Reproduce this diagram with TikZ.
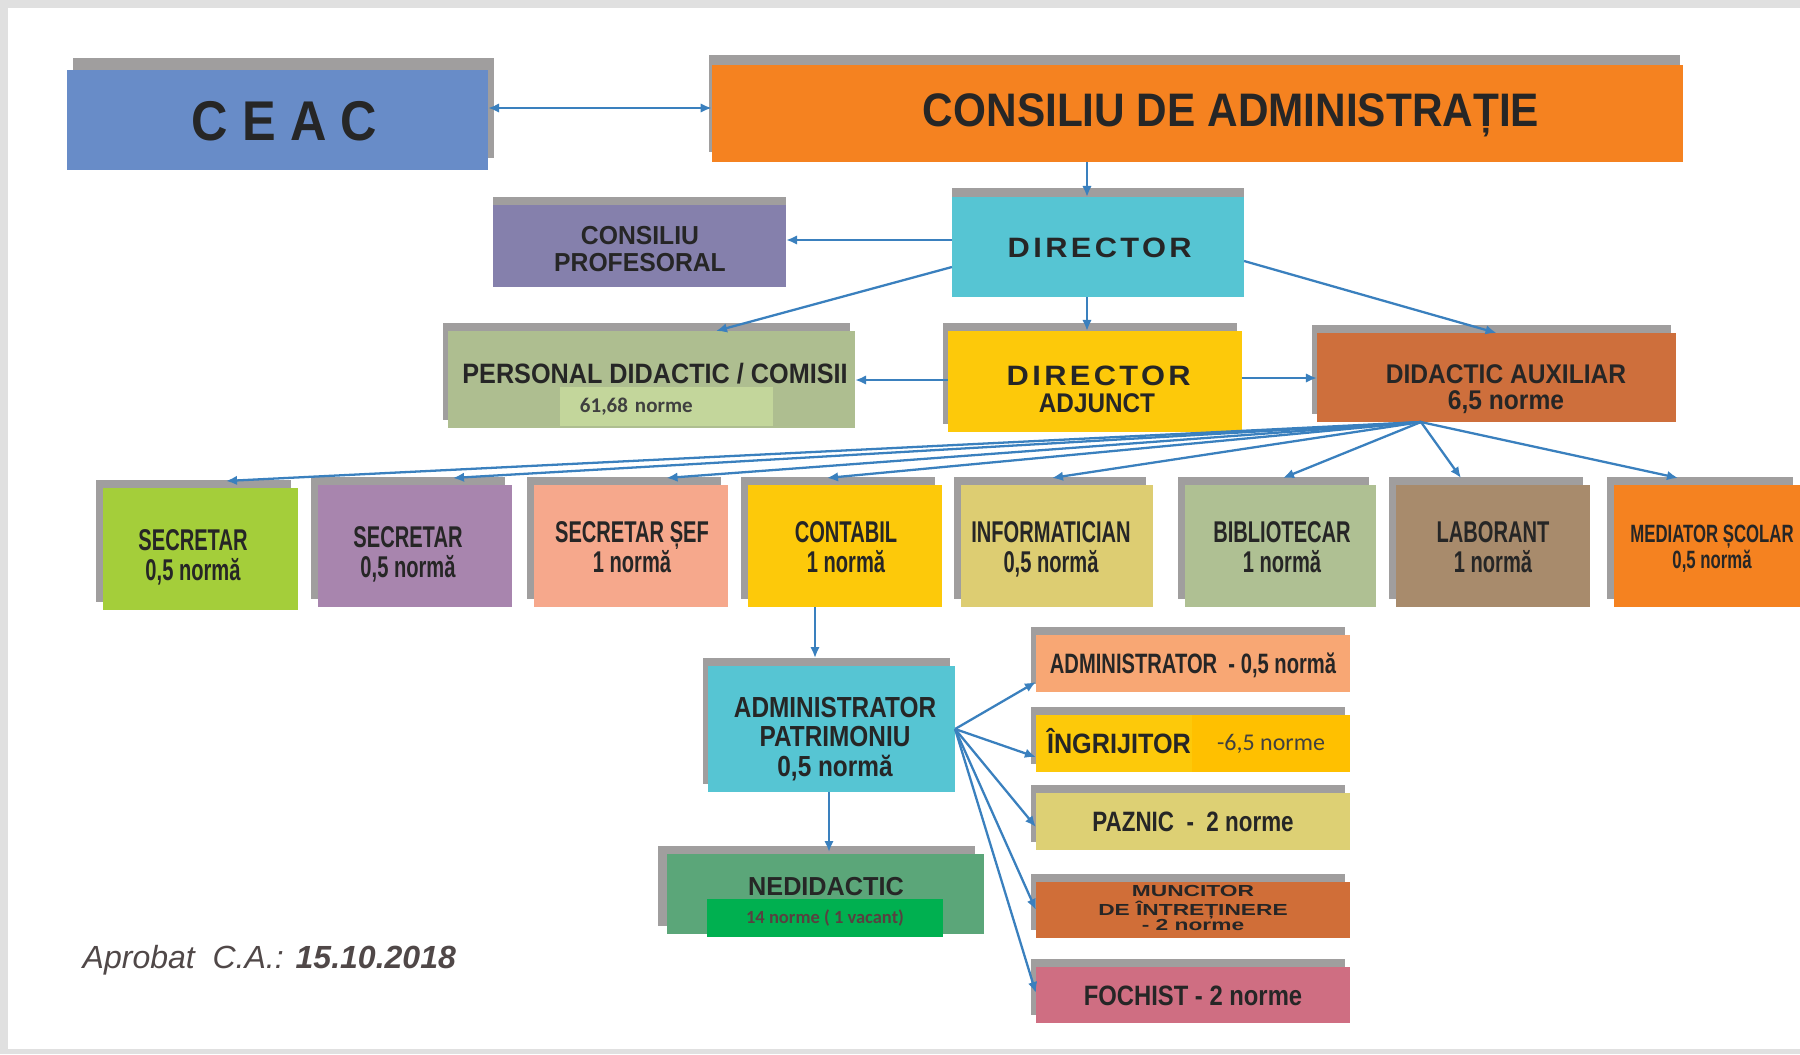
\documentclass[tikz,border=0pt]{standalone}
\usepackage{fontspec}
\setmainfont{Liberation Sans}
\newfontfamily\spfont[LetterSpace=11]{Liberation Sans}
\newfontfamily\spfontb[LetterSpace=28]{Liberation Sans}
\newfontfamily\carl{Carlito}
\usepackage{graphicx}
\usetikzlibrary{arrows.meta,shadows}
\newdimen\pxu \pxu=0.28453pt
\newcommand\fsz[2]{\fontsize{\the\dimexpr#1\pxu\relax}{\the\dimexpr#2\pxu\relax}\selectfont}
\newcommand\lab[4]{\scalebox{#1}[1]{\fsz{#2}{#3}\begin{tabular}{@{}c@{}}#4\end{tabular}}}
\definecolor{cCeac}{RGB}{104,140,200}
\definecolor{cCa}{RGB}{245,130,32}
\definecolor{cDir}{RGB}{86,197,211}
\definecolor{cCp}{RGB}{133,128,172}
\definecolor{cPd}{RGB}{174,190,144}
\definecolor{cPdIn}{RGB}{195,214,155}
\definecolor{cYel}{RGB}{253,201,10}
\definecolor{cAux}{RGB}{206,111,60}
\definecolor{cBa}{RGB}{164,206,58}
\definecolor{cBb}{RGB}{168,133,174}
\definecolor{cBc}{RGB}{246,168,140}
\definecolor{cBe}{RGB}{221,205,114}
\definecolor{cBf}{RGB}{175,192,147}
\definecolor{cBg}{RGB}{168,139,108}
\definecolor{cAdm}{RGB}{248,167,116}
\definecolor{cAmber}{RGB}{255,192,0}
\definecolor{cPaz}{RGB}{221,208,116}
\definecolor{cMun}{RGB}{208,110,56}
\definecolor{cFoc}{RGB}{207,110,130}
\definecolor{cNed}{RGB}{91,166,121}
\definecolor{cNedIn}{RGB}{0,176,80}
\definecolor{cLine}{RGB}{58,128,190}
\definecolor{cTxt}{RGB}{38,38,38}
\definecolor{cNote}{RGB}{80,72,72}
\definecolor{cCal}{RGB}{64,64,64}
\definecolor{cVac}{RGB}{89,64,64}
\definecolor{cShd}{RGB}{160,158,158}
\begin{document}
\begin{tikzpicture}[x=0.01cm, y=-0.01cm,
  bx/.style={rectangle, inner sep=0pt, outer sep=0pt, draw=none, font=\bfseries, text=cTxt},
  sh/.style 2 args={drop shadow={shadow xshift=#1, shadow yshift=#2, fill=cShd, opacity=1}},
  shd/.style={sh={-0.05cm}{0.08cm}},
  txt/.style={inner sep=0pt, outer sep=0pt, font=\bfseries, text=cTxt},
  bot/.style={bx, sh={-0.07cm}{0.08cm}, minimum width=1.94cm, minimum height=1.22cm},
  rbox/.style={bx, shd, minimum width=3.14cm, minimum height=0.57cm},
  conn/.style={draw=cLine, line width=0.65pt, -{Latex[length=1.1mm,width=0.95mm]}},
  conn2/.style={draw=cLine, line width=0.65pt, {Latex[length=1.1mm,width=0.95mm]}-{Latex[length=1.1mm,width=0.95mm]}},
]
\useasboundingbox (0,0) rectangle (1800,1054);
\fill[black!12] (0,0) rectangle (1800,1054);
\fill[white] (8,8) rectangle (1800,1049);

% top level
\node[bx, sh={0.06cm}{0.12cm}, fill=cCeac, minimum width=4.21cm, minimum height=0.86cm] (ceac) at (277.5,120)
  {\lab{0.9}{56}{100}{\spfontb\kern15.7\pxu CEAC}};
\node[bx, sh={-0.03cm}{0.10cm}, fill=cCa, minimum width=9.71cm, minimum height=0.97cm] (ca) at (1197.5,113.5) {};
\node[txt] (cat) at (1231,109.5) {\lab{0.9}{47}{84}{CONSILIU DE ADMINISTRAȚIE}};

\node[bx, sh={0cm}{0.09cm}, fill=cDir, minimum width=2.92cm, minimum height=1.00cm] (dir) at (1098,247)
  {\lab{1.1}{28}{50}{\spfont\kern3.08\pxu DIRECTOR}};
\node[bx, sh={0cm}{0.08cm}, fill=cCp, minimum width=2.93cm, minimum height=0.82cm] (cp) at (639.5,246) {};
\node[txt] (cpt) at (640,252.5) {\lab{0.95}{26}{27}{CONSILIU\\PROFESORAL}};

% second level
\node[bx, shd, fill=cPd, minimum width=4.07cm, minimum height=0.97cm] (pd) at (651.5,379.5) {};
\node[txt] (pdt) at (655,373) {\lab{0.9}{28}{50}{PERSONAL DIDACTIC / COMISII}};
\node[rectangle, fill=cPdIn, inner xsep=0.2cm, inner ysep=0pt, text width=1.73cm, align=left,
  minimum height=0.39cm, font={\carl\bfseries\fsz{21}{25}}, text=cCal] (pdn) at (666.5,406.5) {61,68 norme};

\node[bx, shd, fill=cYel, minimum width=2.94cm, minimum height=1.01cm] (da) at (1095,381.5) {};
\node[txt] (dat) at (1097,393) {\fsz{28}{29}\begin{tabular}{@{}c@{}}\scalebox{1.1}[1]{\spfont\kern3.08\pxu DIRECTOR}\\[-0.5pt]\scalebox{0.9}[1]{\fsz{27}{29}ADJUNCT}\end{tabular}};

\node[bx, shd, fill=cAux, minimum width=3.59cm, minimum height=0.89cm] (aux) at (1496.5,377.5) {};
\node[txt] (auxt) at (1506,391) {\lab{0.91}{27}{26}{DIDACTIC AUXILIAR\\6,5 norme}};

% bottom row
\node[bot, fill=cBa] (b1) at (200.5,549) {};
\node[bot, fill=cBb] (b2) at (415,546) {};
\node[bot, fill=cBc] (b3) at (631,546) {};
\node[bot, fill=cYel] (b4) at (845,546) {};
\node[bot, fill=cBe, minimum width=1.92cm] (b5) at (1057,546) {};
\node[bot, fill=cBf, minimum width=1.91cm] (b6) at (1280.5,546) {};
\node[bot, fill=cBg] (b7) at (1493,546) {};
\node[bot, fill=cCa, minimum width=1.86cm] (b8) at (1707,546) {};
\node[txt] (b1t) at (193,559) {\lab{0.67}{30}{28}{SECRETAR\\0,5 normă}};
\node[txt] (b2t) at (408,556) {\lab{0.67}{30}{28}{SECRETAR\\0,5 normă}};
\node[txt] (b3t) at (632,551) {\lab{0.67}{30}{28}{SECRETAR ȘEF\\1 normă}};
\node[txt] (b4t) at (846,551) {\lab{0.67}{30}{28}{CONTABIL\\1 normă}};
\node[txt] (b5t) at (1051,551) {\lab{0.67}{30}{28}{INFORMATICIAN\\0,5 normă}};
\node[txt] (b6t) at (1282,551) {\lab{0.67}{30}{28}{BIBLIOTECAR\\1 normă}};
\node[txt] (b7t) at (1493,551) {\lab{0.67}{30}{28}{LABORANT\\1 normă}};
\node[txt] (b8t) at (1712,550) {\lab{0.67}{25}{26}{MEDIATOR ȘCOLAR\\0,5 normă}};

% administrator patrimoniu
\node[bx, shd, fill=cDir, minimum width=2.47cm, minimum height=1.25cm] (ap) at (831.5,729) {};
\node[txt] (apt) at (835,741) {\lab{0.84}{29}{27.5}{ADMINISTRATOR\\PATRIMONIU\\0,5 normă}};

\node[bx, sh={-0.09cm}{0.08cm}, fill=cNed, minimum width=3.17cm, minimum height=0.80cm] (ned) at (825.5,894) {};
\node[txt] (nedt) at (826,886) {\lab{0.97}{26}{47}{NEDIDACTIC}};
\node[rectangle, fill=cNedIn, inner sep=0pt, minimum width=2.36cm, minimum height=0.38cm,
  font={\carl\bfseries\fsz{18.5}{22}}, text=cVac] (nedn) at (825,918) {14 norme ( 1 vacant)};

% right column
\node[rbox, fill=cAdm] (r1) at (1193,663.5) {\lab{0.72}{28}{50}{ADMINISTRATOR\ \ - 0,5 normă}};
\node[rbox, fill=cYel] (r2) at (1193,743.5) {};
\node[txt, anchor=west] (r2t) at (1047,743) {\lab{0.9}{28}{50}{ÎNGRIJITOR}};
\node[rectangle, fill=cAmber, inner sep=0pt, minimum width=1.58cm, minimum height=0.57cm,
  font={\carl\fsz{24}{28}}, text=cCal] (r2n) at (1271,743.5) {-6,5 norme};
\node[rbox, fill=cPaz] (r3) at (1193,821.5) {\lab{0.8}{28}{50}{PAZNIC\ \ -\ \ 2 norme}};
\node[rbox, fill=cMun, minimum height=0.56cm] (r4) at (1193,910) {\lab{1.42}{16}{14.5}{MUNCITOR\\DE ÎNTREȚINERE\\- 2 norme}};
\node[rbox, fill=cFoc, minimum height=0.56cm] (r5) at (1193,995) {\lab{0.85}{28}{50}{FOCHIST - 2 norme}};

% note
\node[anchor=base west, inner sep=0pt, text=cNote, font={\fsz{32}{38}}] (appr) at (82,968)
  {\itshape Aprobat\ \ C.A.: {\bfseries 15.10.2018}};

% connectors
\coordinate (yC) at (0,108);
\draw[conn2] (ceac.east |- yC) -- (ca.west |- yC);
\coordinate (xA) at (1087,0);
\draw[conn] (ca.south -| xA) -- (dir.north -| xA);
\draw[conn] (dir.south -| xA) -- (da.north -| xA);
\coordinate (yP) at (0,240);
\draw[conn] (dir.west |- yP) -- (cp.east |- yP);
\draw[conn] ([yshift=-0.2cm]dir.west) -- ([xshift=0.645cm]pd.north);
\draw[conn] ([yshift=-0.14cm]dir.east) -- (aux.north);
\coordinate (yD) at (0,380);
\draw[conn] (da.west |- yD) -- (pd.east |- yD);
\coordinate (yE) at (0,378);
\draw[conn] (da.east |- yE) -- (aux.west |- yE);

\coordinate (fo) at ([xshift=-0.755cm]aux.south);
\foreach \n/\dx in {b1/0.255, b2/0.38, b3/0.355, b4/-0.18, b5/-0.05, b6/0.025, b7/-0.32, b8/-0.29}
  \draw[conn] (fo) -- ([xshift=\dx cm, yshift=0.07cm]\n.north);

\coordinate (xB) at (815,658);
\draw[conn] (b4.south -| xB) -- (xB);
\coordinate (xN) at (829,852);
\draw[conn] (ap.south -| xN) -- (xN);

\draw[conn] (ap.east) -- ([yshift=-0.185cm]r1.west);
\draw[conn] (ap.east) -- ([yshift=-0.135cm]r2.west);
\draw[conn] (ap.east) -- ([yshift=-0.055cm]r3.west);
\draw[conn] (ap.east) -- (r4.west);
\draw[conn] (ap.east) -- ([yshift=0.02cm]r5.west);
\end{tikzpicture}
\end{document}
